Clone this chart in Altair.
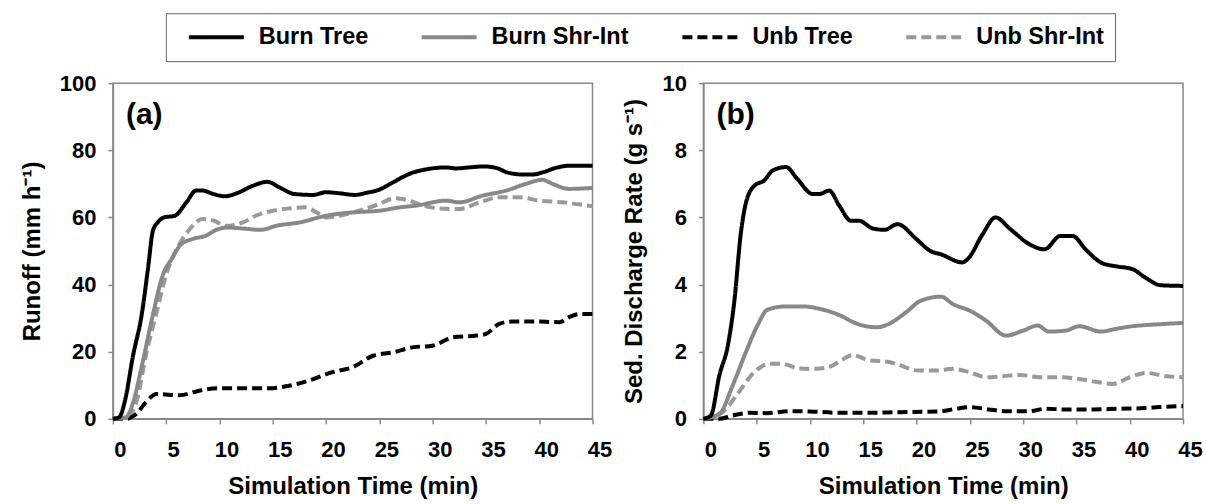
import altair as alt
import pandas as pd

SERIES = ["Burn Tree", "Burn Shr-Int", "Unb Tree", "Unb Shr-Int"]
COLORS = ["#000000", "#888888", "#000000", "#999999"]
DASHES = [[1, 0], [1, 0], [10, 5], [10, 5]]

# ---- Panel (a): Runoff (mm h-1) ----
a_burn_tree_t = [0, 0.6, 1.1, 1.9, 2.7, 3.3, 3.75, 4.2, 4.8, 5.8, 6.9, 7.8, 8.4, 9.4, 10.5, 11.7, 13.1, 14.5, 15.6, 17.0,
                 18.75, 20, 21.25, 22.7, 23.75, 25, 26.25, 28, 29.2, 31.25, 32.2, 33.4, 34.8, 36.1, 37, 38.4, 39.4, 40.3, 41.6, 42.8, 45]
a_burn_tree_v = [0, 0.5, 5, 19, 31, 45, 56, 58.5, 60, 60.5, 64.5, 68, 68, 67, 66.3, 67.3, 69.4, 70.6, 69, 67,
                 66.7, 67.5, 67.2, 66.7, 67.3, 68.3, 70.4, 73.2, 74.2, 74.9, 74.6, 74.9, 75.2, 74.6, 73.4, 72.8, 72.8, 73.4, 74.8, 75.4, 75.4]

a_burn_shr_t = [0, 1.25, 1.9, 2.8, 3.75, 4.7, 5.5, 6.4, 7.5, 8.75, 9.7, 10.8, 12.2, 13.9, 15.3, 17.5, 20, 22.5, 25, 26.9,
                28.4, 31.25, 32.5, 34.7, 36.9, 38.75, 40.3, 41.25, 42.8, 45]
a_burn_shr_v = [0, 0.5, 5, 17, 31, 43, 47.6, 52, 53.6, 54.6, 56.3, 57, 56.7, 56.3, 57.5, 58.5, 60.5, 61.5, 62, 63,
                63.5, 65, 64.5, 66.5, 68, 70, 71.2, 70, 68.5, 68.8]

a_unb_tree_t = [0, 1.25, 2.2, 3.1, 4.1, 6.25, 8.1, 10, 12.2, 14.7, 16.25, 18.4, 20.6, 22.5, 24.4, 26.25, 28.1, 30, 31.9, 34.1,
                35, 36.25, 37.5, 39.4, 41.9, 42.8, 43.75, 45]
a_unb_tree_v = [0, 0, 1.5, 5, 7.4, 7, 8.4, 9.1, 9.1, 9.1, 9.7, 11.4, 13.9, 15.4, 18.8, 19.8, 21.3, 21.8, 24.3, 24.8,
                25.3, 28.3, 29, 29, 28.8, 30.3, 31.2, 31.2]

a_unb_shr_t = [0, 1.25, 2.2, 3.1, 4.2, 5, 5.9, 7.2, 8.4, 9.5, 10.6, 12.2, 13.4, 15, 16.6, 18.1, 19.1, 20, 21.25, 23.1,
               25, 26.4, 27.8, 29.1, 30.6, 32.5, 34.4, 36.25, 38.1, 40, 42.2, 45]
a_unb_shr_v = [0, 0.5, 5, 19, 33, 43, 50, 56.5, 59.5, 59, 57.5, 58.5, 60.5, 62, 62.7, 63, 61.5, 60, 60.5, 62,
               64, 65.7, 65, 63.5, 62.7, 62.5, 64.5, 66, 66, 65, 64.5, 63.3]

# ---- Panel (b): Sediment discharge rate (g s-1) ----
b_burn_tree_t = [0, 0.7, 1.5, 2.3, 2.9, 3.5, 4, 4.8, 5.7, 6.5, 7.75, 8.8, 10.25, 10.9, 11.8, 12.75, 13.85, 14.6, 15.9, 17,
                 18.2, 20, 21.3, 22.3, 24.3, 24.8, 26.2, 27.4, 28.8, 30.6, 32, 33.5, 34.6, 36, 37.4, 38.8, 40.25, 41.5, 42.9, 45]
b_burn_tree_v = [0, 0.1, 1.3, 2.2, 3.5, 5.5, 6.45, 6.95, 7.1, 7.4, 7.5, 7.15, 6.7, 6.7, 6.8, 6.35, 5.9, 5.9, 5.67, 5.63,
                 5.8, 5.35, 5.0, 4.9, 4.66, 4.76, 5.5, 6.0, 5.65, 5.2, 5.05, 5.45, 5.45, 5.0, 4.64, 4.54, 4.46, 4.2, 3.98, 3.96]

b_burn_shr_t = [0, 1.5, 2.75, 4, 5.1, 6, 7.75, 9.3, 11, 12.9, 14.2, 15.25, 16.3, 17.4, 19, 20.4, 22.3, 23.4, 25, 26.5,
                28.4, 30, 31.35, 32.4, 34, 35.25, 37.3, 38.7, 40.25, 41.8, 43.4, 45]
b_burn_shr_v = [0, 0.15, 1.0, 2.0, 2.8, 3.25, 3.35, 3.35, 3.27, 3.07, 2.86, 2.76, 2.73, 2.83, 3.17, 3.52, 3.64, 3.42, 3.22, 2.93,
                2.48, 2.63, 2.78, 2.6, 2.63, 2.76, 2.6, 2.68, 2.76, 2.8, 2.83, 2.86]

b_unb_tree_t = [0, 1.5, 2.75, 4.3, 5.9, 8.1, 10, 12.75, 15.25, 18.4, 22.1, 23.7, 25.1, 26.8, 28.4, 30.6, 32.1, 34, 36.5, 38.9,
                41.4, 42.75, 45]
b_unb_tree_v = [0, 0, 0.1, 0.18, 0.17, 0.23, 0.22, 0.18, 0.18, 0.2, 0.22, 0.3, 0.35, 0.28, 0.23, 0.23, 0.3, 0.28, 0.28, 0.3,
                0.32, 0.35, 0.38]

b_unb_shr_t = [0, 1.8, 3.1, 4.8, 6.2, 7.4, 9, 10.6, 12, 12.9, 14, 15.6, 17.3, 18.4, 20.1, 21.8, 23.4, 25, 26.5, 28.1,
               29.7, 31.5, 33.7, 35.25, 37.1, 38.4, 40, 41.5, 43.4, 45]
b_unb_shr_v = [0, 0.2, 0.7, 1.4, 1.64, 1.64, 1.5, 1.49, 1.57, 1.74, 1.9, 1.74, 1.7, 1.6, 1.44, 1.44, 1.49, 1.39, 1.24, 1.27,
               1.31, 1.24, 1.24, 1.19, 1.09, 1.04, 1.24, 1.37, 1.27, 1.24]

X_TICKS = [0, 5, 10, 15, 20, 25, 30, 35, 40, 45]
A_TICKS = [0, 20, 40, 60, 80, 100]
B_TICKS = [0, 2, 4, 6, 8, 10]


def frame(parts):
    rows = []
    for name, ts, vs in parts:
        for t, v in zip(ts, vs, strict=True):
            rows.append({"series": name, "t": t, "v": v})
    return pd.DataFrame(rows)


df_a = frame([
    ("Unb Shr-Int", a_unb_shr_t, a_unb_shr_v),
    ("Unb Tree", a_unb_tree_t, a_unb_tree_v),
    ("Burn Shr-Int", a_burn_shr_t, a_burn_shr_v),
    ("Burn Tree", a_burn_tree_t, a_burn_tree_v),
])
df_b = frame([
    ("Unb Shr-Int", b_unb_shr_t, b_unb_shr_v),
    ("Unb Tree", b_unb_tree_t, b_unb_tree_v),
    ("Burn Shr-Int", b_burn_shr_t, b_burn_shr_v),
    ("Burn Tree", b_burn_tree_t, b_burn_tree_v),
])

FONT = "Liberation Sans"

legend = alt.Legend(
    title=None, orient="none", legendX=53, legendY=-70, direction="horizontal", columns=4,
    symbolType="stroke", symbolSize=3025, symbolStrokeWidth=4, labelFontSize=23.5, labelFont=FONT,
    labelFontWeight="bold", labelColor="black", labelOffset=13, columnPadding=41, padding=11,
    symbolOffset=10, clipHeight=26, strokeColor="#666666", fillColor="white",
)


def panel(df, ytitle, ymax, yticks, tag):
    x = alt.X("t:Q", scale=alt.Scale(domain=[0, 45], nice=False),
              axis=alt.Axis(values=X_TICKS, title="Simulation Time (min)", labelOffset=7, labelFlush=False,
                            labelPadding=16, titlePadding=14))
    y = alt.Y("v:Q", scale=alt.Scale(domain=[0, ymax], nice=False),
              axis=alt.Axis(values=yticks, title=ytitle, labelPadding=12, titlePadding=15))
    lines = alt.Chart(df).mark_line(strokeWidth=4, interpolate="monotone").encode(
        x=x, y=y,
        color=alt.Color("series:N", scale=alt.Scale(domain=SERIES, range=COLORS), legend=legend),
        strokeDash=alt.StrokeDash("series:N", scale=alt.Scale(domain=SERIES, range=DASHES), legend=legend),
    )
    label = alt.Chart(pd.DataFrame({"tag": [tag]})).mark_text(
        font=FONT, fontSize=30, fontWeight="bold", align="left", baseline="middle", color="black"
    ).encode(text="tag:N", x=alt.value(13), y=alt.value(32))
    return alt.layer(lines, label).properties(width=480, height=336)


pa = panel(df_a, "Runoff (mm h\u207b\u00b9)", 100, A_TICKS, "(a)")
pb = panel(df_b, "Sed. Discharge Rate (g s\u207b\u00b9)", 10, B_TICKS, "(b)")

chart = (
    alt.hconcat(pa, pb, spacing=9)
    .properties(padding={"left": 19, "top": 12, "right": 3, "bottom": 2})
    .configure_view(stroke="#888888", strokeWidth=1.5)
    .configure_axis(
        grid=False, domainColor="#888888", domainWidth=1.5, tickColor="#888888", tickSize=5, tickWidth=1.5,
        labelFont=FONT, labelFontSize=22, labelFontWeight="bold", labelColor="black",
        titleFont=FONT, titleFontSize=24, titleFontWeight="bold", titleColor="black",
    )
)

chart.save("out.html", embed_options={"renderer": "svg", "actions": False})
